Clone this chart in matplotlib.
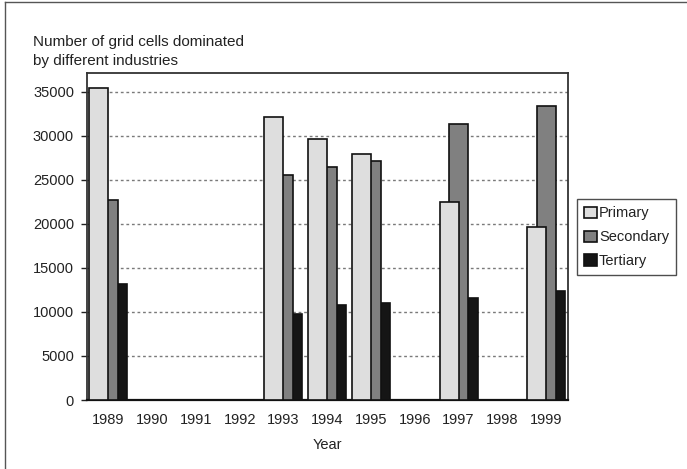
import numpy as np
import matplotlib
matplotlib.use("Agg")
import matplotlib.pyplot as plt
from matplotlib.lines import Line2D

plt.rcParams['font.family'] = ['Liberation Sans', 'DejaVu Sans']

years = ['1989', '1990', '1991', '1992', '1993', '1994', '1995', '1996', '1997', '1998', '1999']
primary = [35500, np.nan, np.nan, np.nan, 32100, 29600, 27900, np.nan, 22500, np.nan, 19600]
secondary = [22700, np.nan, np.nan, np.nan, 25600, 26500, 27200, np.nan, 31300, np.nan, 33400]
tertiary = [13200, np.nan, np.nan, np.nan, 9800, 10800, 11000, np.nan, 11600, np.nan, 12400]
series_names = ['Primary', 'Secondary', 'Tertiary']
y_ticks = [0, 5000, 10000, 15000, 20000, 25000, 30000, 35000]

W, H = 687, 469
fig = plt.figure(figsize=(W / 100, H / 100), dpi=100)
ax = fig.add_axes([86.5 / W, (H - 400) / H, (568 - 86.5) / W, (400 - 73) / H])

x = np.arange(len(years))
step = 0.217
bw = 0.434
colors = ['#dedede', '#808080', '#151515']
values = [primary, secondary, tertiary]
handles = []
# overlapping clustered bars: first series sits on top
for i in range(2, -1, -1):
    b = ax.bar(x + (i - 1) * step, values[i], width=bw, color=colors[i],
               edgecolor='#111111', linewidth=1.2, zorder=3 + (3 - i),
               label=series_names[i])
    handles.append(b)
handles = handles[::-1]

ax.set_xlim(-0.5, len(years) - 0.5)
ax.set_ylim(0, 37150)
ax.set_yticks(y_ticks)
ax.set_yticklabels([str(v) for v in y_ticks])
ax.set_xticks(x)
ax.set_xticklabels(years)
ax.tick_params(axis='x', length=0, pad=9, labelsize=10.5, colors='#222222')
ax.tick_params(axis='y', length=4, width=1, direction='out', pad=5,
               labelsize=10.5, colors='#222222')

for yv in y_ticks[1:]:
    ax.axhline(yv, color='#7a7a7a', linestyle=(0, (2, 2)), linewidth=1.0, zorder=1)

for s in ax.spines.values():
    s.set_color('#333333')
    s.set_linewidth(1.3)
ax.spines['bottom'].set_color('#111111')
ax.spines['bottom'].set_linewidth(1.6)

ax.set_xlabel('Year', fontsize=10.5, color='#222222', labelpad=8)

fig.text(33 / W, 1 - 35 / H, 'Number of grid cells dominated\nby different industries',
         ha='left', va='top', fontsize=11, color='#222222', linespacing=1.5)

leg = ax.legend(handles, series_names, loc='upper left',
                bbox_to_anchor=(577 / W, 1 - 199 / H), bbox_transform=fig.transFigure,
                frameon=True, fancybox=False, fontsize=10.5, handlelength=0.9,
                handleheight=0.8, handletextpad=0.1, labelspacing=0.68,
                borderpad=0.5, borderaxespad=0)
leg.get_frame().set_edgecolor('#222222')
leg.get_frame().set_linewidth(1.0)
for t in leg.get_texts():
    t.set_color('#222222')

# outer figure border
fig.add_artist(Line2D([5 / W, 5 / W], [0, 1 - 2 / H], transform=fig.transFigure,
                      color='#555555', linewidth=1.0))
fig.add_artist(Line2D([5 / W, 1], [1 - 2 / H, 1 - 2 / H], transform=fig.transFigure,
                      color='#555555', linewidth=1.0))

fig.savefig('out.png', dpi=100)
